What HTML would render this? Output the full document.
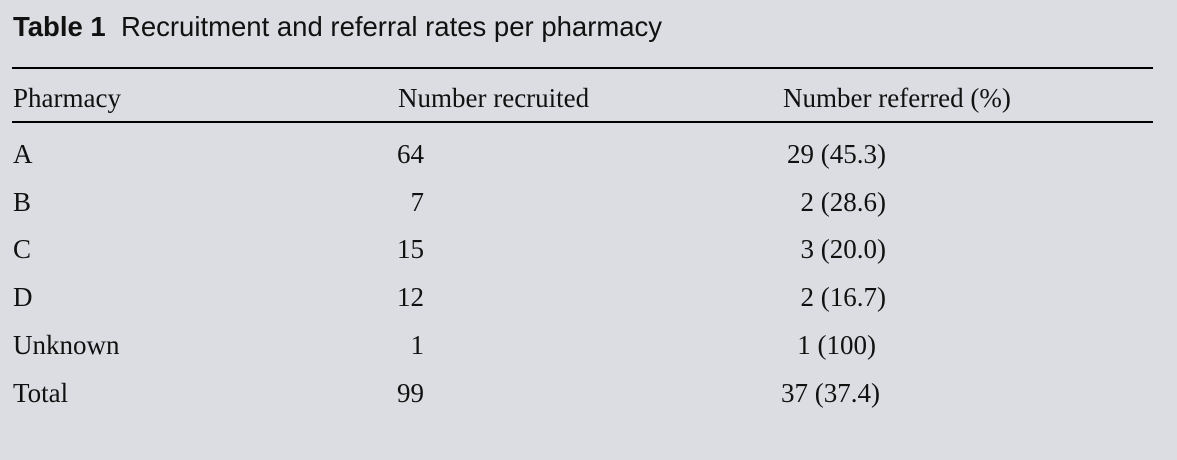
<!DOCTYPE html>
<html><head><style>
body{margin:0;width:1177px;height:460px;background:#dcdde2;position:relative;overflow:hidden}
.t{position:absolute;white-space:nowrap;color:#111}
.h{font-family:"Liberation Sans",sans-serif;font-size:27.5px;top:11px;left:13px}
.s{font-family:"Liberation Serif",serif;font-size:27px;line-height:30px}
.line{position:absolute;left:12px;width:1141px;height:2px;background:#000}
.r{text-align:right}
</style></head><body>
<div class="t h"><b>Table 1</b>&nbsp; Recruitment and referral rates per pharmacy</div>
<div class="line" style="top:67px"></div>
<div class="line" style="top:121px"></div>
<div class="t s" style="left:13px;top:83px">Pharmacy</div>
<div class="t s" style="left:398px;top:83px">Number recruited</div>
<div class="t s" style="left:783px;top:83px">Number referred (%)</div>

<div class="t s" style="left:13px;top:139px">A</div>
<div class="t s r" style="left:370px;width:54px;top:139px">64</div>
<div class="t s r" style="left:700px;width:186px;top:139px">29 (45.3)</div>

<div class="t s" style="left:13px;top:187px">B</div>
<div class="t s r" style="left:370px;width:54px;top:187px">7</div>
<div class="t s r" style="left:700px;width:186px;top:187px">2 (28.6)</div>

<div class="t s" style="left:13px;top:234px">C</div>
<div class="t s r" style="left:370px;width:54px;top:234px">15</div>
<div class="t s r" style="left:700px;width:186px;top:234px">3 (20.0)</div>

<div class="t s" style="left:13px;top:282px">D</div>
<div class="t s r" style="left:370px;width:54px;top:282px">12</div>
<div class="t s r" style="left:700px;width:186px;top:282px">2 (16.7)</div>

<div class="t s" style="left:13px;top:330px">Unknown</div>
<div class="t s r" style="left:370px;width:54px;top:330px">1</div>
<div class="t s r" style="left:700px;width:176px;top:330px">1 (100)</div>

<div class="t s" style="left:13px;top:378px">Total</div>
<div class="t s r" style="left:370px;width:54px;top:378px">99</div>
<div class="t s r" style="left:700px;width:180px;top:378px">37 (37.4)</div>
</body></html>
